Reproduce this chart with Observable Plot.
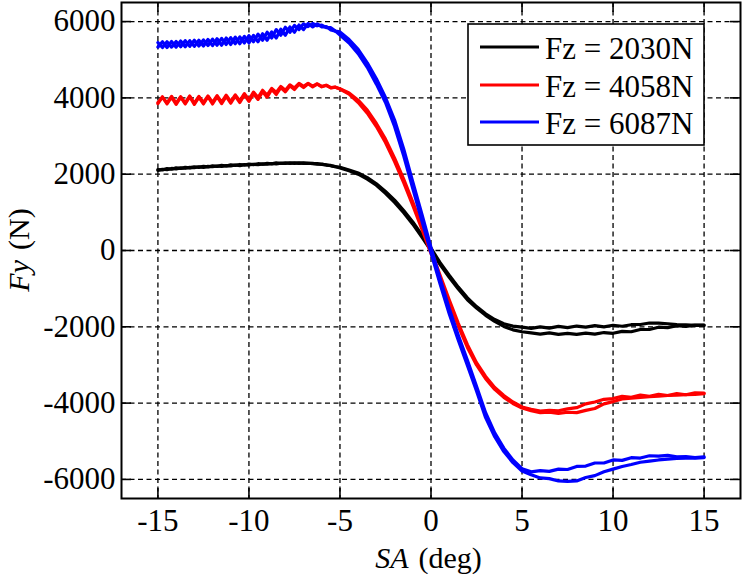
<!DOCTYPE html>
<html>
<head>
<meta charset="utf-8">
<script src="https://cdn.jsdelivr.net/npm/d3@7"></script>
<script src="https://cdn.jsdelivr.net/npm/@observablehq/plot@0.6"></script>
<style>
  html, body { margin: 0; padding: 0; background: #fff; }
  #chart { width: 744px; height: 574px; }
  #chart svg, #chart svg text { font-family: "Liberation Serif", "Times New Roman", Times, serif !important; }
</style>
</head>
<body>
<div id="chart"></div>
<script>
// ---- data ----
const seriesNames = ["Fz = 2030N", "Fz = 4058N", "Fz = 6087N"];
const seriesColors = ["#000000", "#ff0000", "#0000ff"];
const xTicks = [-15, -10, -5, 0, 5, 10, 15];
const yTicks = [-6000, -4000, -2000, 0, 2000, 4000, 6000];

// slip angle samples (deg)
const saGrid = [
  -15, -14.75, -14.5, -14.25, -14, -13.75, -13.5, -13.25, -13, -12.75,
  -12.5, -12.25, -12, -11.75, -11.5, -11.25, -11, -10.75, -10.5, -10.25,
  -10, -9.75, -9.5, -9.25, -9, -8.75, -8.5, -8.25, -8, -7.75,
  -7.5, -7.25, -7, -6.75, -6.5, -6.25, -6, -5.75, -5.5, -5.25,
  -5,
  -4.5, -4, -3.5, -3, -2.5, -2, -1.5, -1, -0.5, 0,
  0.5, 1, 1.5, 2, 2.5, 3, 3.5, 4, 4.5, 5,
  5.5, 6, 6.5, 7, 7.5, 8, 8.5, 9, 9.5, 10,
  10.5, 11, 11.5, 12, 12.5, 13, 13.5, 14, 14.5, 15
];

// Fz = 2030N, two sweep branches (N)
const fy2030a = [
  2100, 2130, 2120, 2150, 2140, 2165, 2155, 2180, 2170, 2195,
  2180, 2205, 2195, 2215, 2205, 2225, 2215, 2240, 2225, 2250,
  2240, 2260, 2250, 2270, 2260, 2280, 2270, 2290, 2280, 2295,
  2285, 2295, 2285, 2290, 2275, 2275, 2255, 2245, 2220, 2200,
  2165,
  2090, 2000, 1870, 1710, 1500, 1260, 990, 690, 350, 0,
  -370, -700, -1010, -1290, -1510, -1700, -1860, -1990, -2080, -2130,
  -2160, -2190, -2160, -2200, -2170, -2200, -2165, -2190, -2150, -2170,
  -2120, -2130, -2070, -2070, -2010, -2020, -1970, -1990, -1955, -1965
];
const fy2030b = [
  2120, 2110, 2145, 2130, 2165, 2150, 2180, 2165, 2195, 2180,
  2205, 2190, 2220, 2205, 2230, 2215, 2245, 2230, 2255, 2240,
  2265, 2250, 2275, 2260, 2285, 2270, 2295, 2280, 2300, 2285,
  2300, 2285, 2295, 2280, 2285, 2265, 2265, 2240, 2230, 2195,
  2180,
  2110, 2030, 1910, 1750, 1550, 1320, 1050, 750, 410, 60,
  -320, -650, -960, -1240, -1470, -1660, -1810, -1920, -1980, -2010,
  -2040, -2000, -2035, -1990, -2020, -1980, -2010, -1970, -2000, -1960,
  -1985, -1945, -1940, -1900, -1905, -1920, -1945, -1950, -1960, -1955
];

// Fz = 4058N
const fy4058a = [
  3850, 4030, 3840, 4020, 3830, 4020, 3840, 4030, 3830, 4020,
  3840, 4030, 3840, 4030, 3850, 4040, 3860, 4050, 3880, 4080,
  3910, 4110, 3960, 4160, 4020, 4220, 4090, 4270, 4160, 4320,
  4220, 4360, 4270, 4370, 4290, 4360, 4290, 4330, 4260, 4280,
  4230,
  4100, 3880, 3600, 3250, 2830, 2330, 1780, 1180, 560, -80,
  -720, -1360, -1980, -2540, -3000, -3360, -3640, -3850, -4010, -4130,
  -4200, -4250, -4240, -4270, -4240, -4250, -4190, -4140, -4020, -3960,
  -3890, -3870, -3850, -3830, -3820, -3800, -3790, -3780, -3770, -3750
];
const fy4058b = [
  3880, 4010, 3870, 4040, 3860, 4030, 3870, 4050, 3860, 4040,
  3880, 4050, 3880, 4060, 3890, 4070, 3900, 4080, 3920, 4110,
  3950, 4150, 4010, 4200, 4070, 4250, 4140, 4300, 4200, 4340,
  4260, 4380, 4300, 4380, 4310, 4370, 4300, 4330, 4270, 4280,
  4240,
  4130, 3940, 3680, 3330, 2920, 2420, 1870, 1270, 640, 0,
  -650, -1290, -1910, -2470, -2940, -3300, -3590, -3800, -3970, -4100,
  -4160, -4210, -4190, -4200, -4150, -4120, -4020, -3970, -3900, -3880,
  -3820, -3850, -3790, -3820, -3770, -3800, -3750, -3780, -3730, -3740
];

// Fz = 6087N
const fy6087a = [
  5330, 5470, 5320, 5480, 5330, 5490, 5340, 5500, 5350, 5510,
  5360, 5530, 5370, 5550, 5380, 5570, 5400, 5590, 5420, 5610,
  5440, 5640, 5470, 5680, 5510, 5730, 5570, 5800, 5640, 5860,
  5720, 5910, 5790, 5950, 5860, 5940, 5860, 5870, 5780, 5750,
  5650,
  5440, 5160, 4800, 4360, 3880, 3250, 2480, 1620, 780, -60,
  -880, -1660, -2350, -3010, -3680, -4380, -4880, -5270, -5560, -5780,
  -5880, -5960, -5980, -6040, -6050, -6040, -5950, -5900, -5800, -5730,
  -5660, -5610, -5550, -5520, -5490, -5470, -5450, -5440, -5440, -5430
];
const fy6087b = [
  5450, 5320, 5470, 5330, 5480, 5340, 5500, 5350, 5510, 5360,
  5520, 5370, 5540, 5380, 5560, 5400, 5580, 5420, 5600, 5440,
  5630, 5470, 5670, 5510, 5720, 5570, 5790, 5640, 5850, 5720,
  5900, 5790, 5940, 5870, 5950, 5890, 5910, 5840, 5840, 5750,
  5730,
  5530, 5270, 4920, 4500, 4010, 3420, 2660, 1800, 950, 80,
  -740, -1520, -2220, -2880, -3560, -4250, -4780, -5180, -5490, -5720,
  -5800, -5770, -5790, -5730, -5740, -5660, -5650, -5570, -5570, -5490,
  -5500, -5430, -5440, -5380, -5390, -5370, -5410, -5400, -5430, -5410
];

const branches = [
  {series: seriesNames[0], branch: "a", values: fy2030a},
  {series: seriesNames[0], branch: "b", values: fy2030b},
  {series: seriesNames[1], branch: "a", values: fy4058a},
  {series: seriesNames[1], branch: "b", values: fy4058b},
  {series: seriesNames[2], branch: "a", values: fy6087a},
  {series: seriesNames[2], branch: "b", values: fy6087b}
];

const rows = [];
for (const b of branches) {
  saGrid.forEach((sa, i) => {
    if (b.values[i] !== undefined) rows.push({sa, fy: b.values[i], series: b.series, key: b.series + b.branch});
  });
}

// ---- chart ----
const W = 744, H = 574;
const mL = 121, mR = 4, mT = 2, mB = 76;
const frameW = W - mL - mR, frameH = H - mT - mB;
const tickLen = 10;
const font = "'Liberation Serif', 'Times New Roman', Times, serif";

const plot = Plot.plot({
  width: W, height: H,
  marginLeft: mL, marginRight: mR, marginTop: mT, marginBottom: mB,
  style: {fontFamily: font, fontSize: "31px", color: "black", background: "white", overflow: "visible"},
  x: {domain: [-17, 17]},
  y: {domain: [-6500, 6500]},
  color: {domain: seriesNames, range: seriesColors},
  marks: [
    Plot.ruleX(xTicks, {stroke: "black", strokeWidth: 1.3, strokeDasharray: "5,3.5"}),
    Plot.ruleY(yTicks, {stroke: "black", strokeWidth: 1.3, strokeDasharray: "5,3.5"}),
    Plot.line(rows, {x: "sa", y: "fy", z: "key", stroke: "series", strokeWidth: 3.2, strokeLinejoin: "round"}),
    Plot.ruleX(xTicks, {insetTop: frameH - tickLen, stroke: "black", strokeWidth: 1.6}),
    Plot.ruleX(xTicks, {insetBottom: frameH - tickLen, stroke: "black", strokeWidth: 1.6}),
    Plot.ruleY(yTicks, {insetRight: frameW - tickLen, stroke: "black", strokeWidth: 1.6}),
    Plot.ruleY(yTicks, {insetLeft: frameW - tickLen, stroke: "black", strokeWidth: 1.6}),
    Plot.axisX(xTicks, {tickSize: 0, tickPadding: 10, label: null, fontSize: 31, fontVariant: "normal", tickFormat: d => String(d)}),
    Plot.axisY(yTicks, {tickSize: 0, tickPadding: 6, label: null, fontSize: 31, fontVariant: "normal", tickFormat: d => String(d)}),
    Plot.frame({stroke: "black", strokeWidth: 2})
  ]
});

document.getElementById("chart").appendChild(plot);

// axis titles and legend (text kept as real SVG text)
const svg = d3.select(plot);
svg.selectAll("text").style("font-family", font);
const xs = plot.scale("x");

const xl = svg.append("text")
  .attr("x", xs.apply(0) - 2)
  .attr("y", 568)
  .attr("text-anchor", "middle")
  .style("font-family", font)
  .attr("font-size", 30)
  .attr("fill", "black");
xl.append("tspan").attr("font-style", "italic").text("SA");
xl.append("tspan").attr("dx", 10).text("(deg)");

const yl = svg.append("text")
  .attr("transform", `translate(29,${mT + frameH / 2}) rotate(-90)`)
  .attr("text-anchor", "middle")
  .style("font-family", font)
  .attr("font-size", 30)
  .attr("fill", "black");
yl.append("tspan").attr("font-style", "italic").text("Fy");
yl.append("tspan").attr("dx", 10).text("(N)");

const lg = svg.append("g");
lg.append("rect")
  .attr("x", 468).attr("y", 24).attr("width", 236).attr("height", 121)
  .attr("fill", "white").attr("stroke", "black").attr("stroke-width", 1.6);
const rowY = [47, 85, 122];
seriesNames.forEach((name, i) => {
  lg.append("line")
    .attr("x1", 480).attr("x2", 539).attr("y1", rowY[i]).attr("y2", rowY[i])
    .attr("stroke", seriesColors[i]).attr("stroke-width", 3);
  lg.append("text")
    .attr("x", 545).attr("y", rowY[i] + 12)
    .attr("text-anchor", "start")
    .style("font-family", font).attr("font-size", 31).attr("fill", "black")
    .text(name);
});
</script>
</body>
</html>
